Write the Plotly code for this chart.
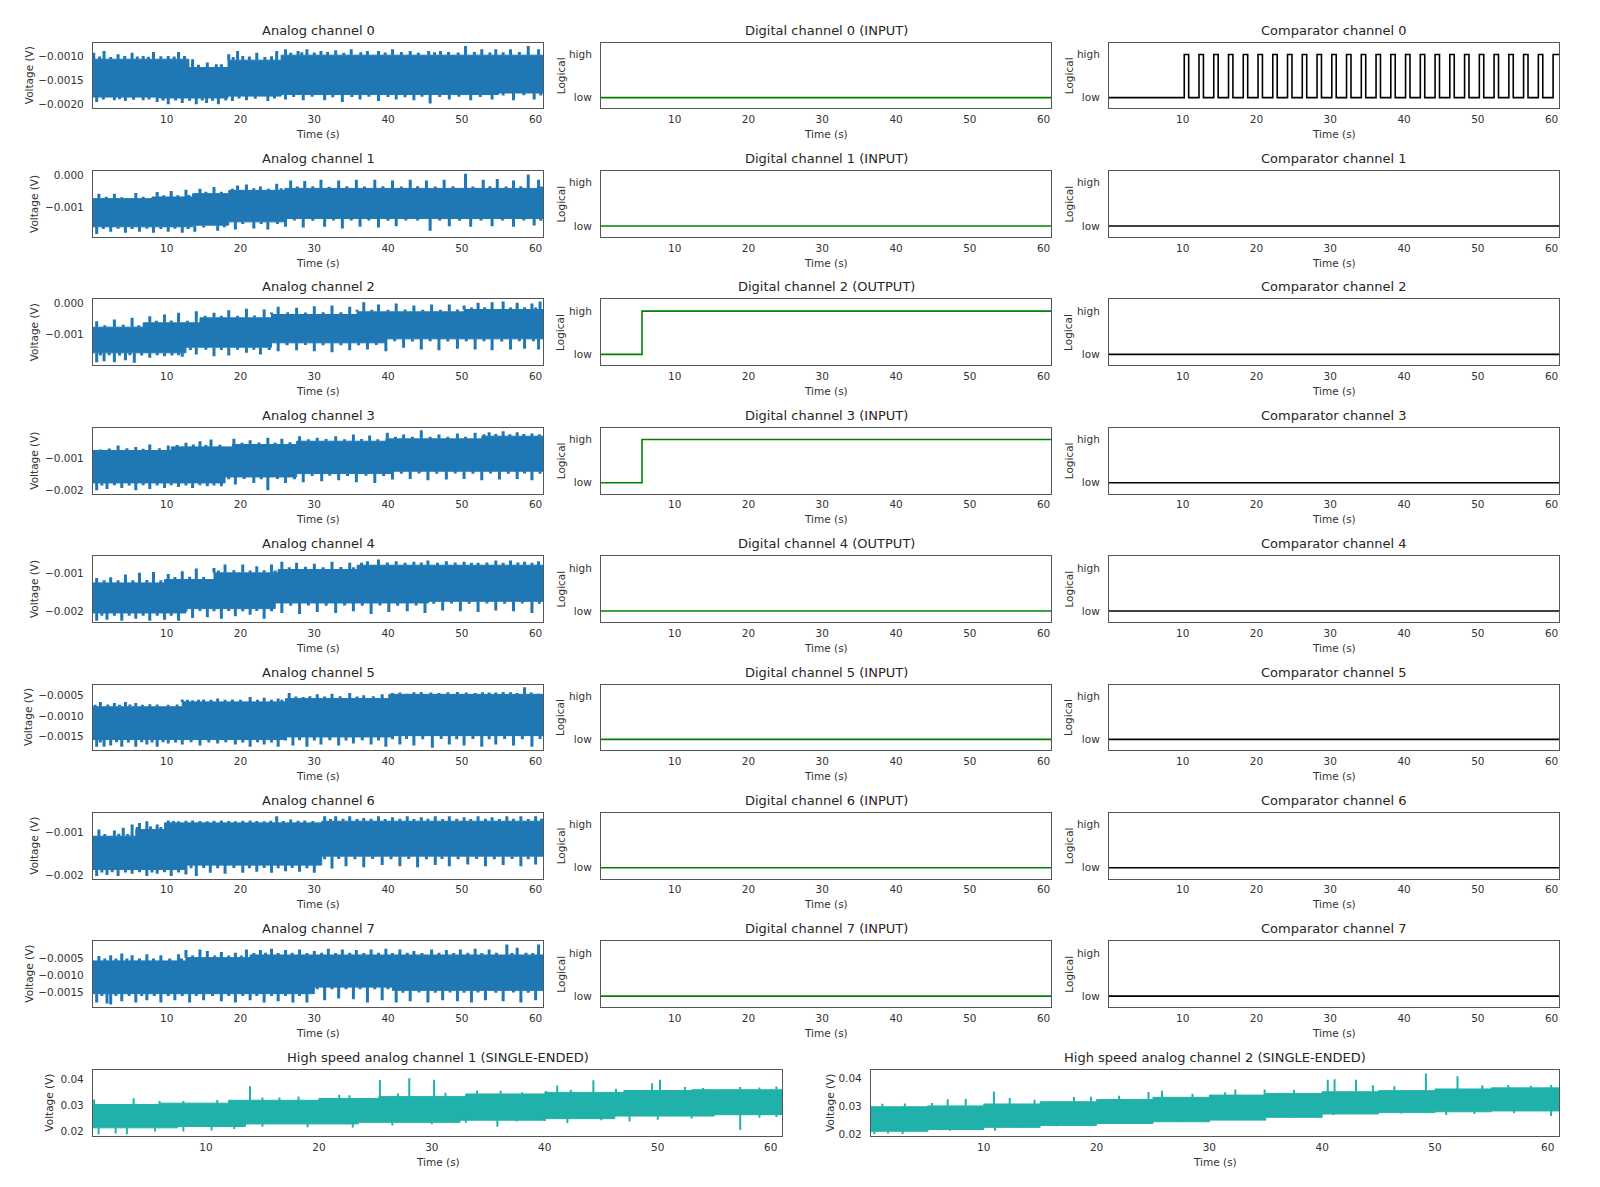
import numpy as np
import plotly.graph_objects as go

# ---------------------------------------------------------------- data ----
X_TICKS = [10, 20, 30, 40, 50, 60]
X_RANGE = [0.0, 61.0]

ANALOG_TITLES = ["Analog channel %d" % i for i in range(8)]
DIGITAL_TITLES = ["Digital channel 0 (INPUT)", "Digital channel 1 (INPUT)",
                  "Digital channel 2 (OUTPUT)", "Digital channel 3 (INPUT)",
                  "Digital channel 4 (OUTPUT)", "Digital channel 5 (INPUT)",
                  "Digital channel 6 (INPUT)", "Digital channel 7 (INPUT)"]
COMPARATOR_TITLES = ["Comparator channel %d" % i for i in range(8)]
HS_TITLES = ["High speed analog channel 1 (SINGLE-ENDED)",
             "High speed analog channel 2 (SINGLE-ENDED)"]

# analog channels, values in microvolts
# core band: (time s, upper edge, lower edge) step breakpoints
# spikes: (time s, value) excursions above / below the band (large and minor ones)
A0_CORE = [(0, -1055, -1850), (9, -1055, -1870), (13, -1230, -1870), (18.3, -1075, -1830),
           (25.5, -970, -1795), (55, -970, -1765)]
A0_UP = [(0.1, -917), (1.5, -883), (3.4, -952), (5.3, -917), (6.8, -986), (8.2, -903), (10.2, -986),
         (11.6, -903), (13.5, -1055), (15.5, -1124), (16.7, -1159), (18.4, -952), (19.6, -883),
         (20.3, -986), (22.2, -917), (24.9, -883), (26.1, -848), (27.8, -883), (29.0, -848),
         (30.9, -883), (32.9, -869), (35.0, -848), (37.2, -883), (38.7, -883), (40.6, -848),
         (43.0, -883), (45.5, -883), (47.1, -883), (50.5, -779), (52.7, -848), (54.6, -848),
         (56.6, -848), (59.0, -779), (60.4, -848)]
A0_UP_MINOR = [(0.9, -1000), (2.4, -1010), (4.3, -990), (6.0, -1000), (7.5, -1005), (9.2, -995),
               (11.0, -1000), (12.4, -990), (14.3, -1170), (17.4, -1160), (19.0, -1010), (21.2, -1000),
               (23.3, -1010), (24.2, -995), (26.8, -920), (28.3, -910), (30.0, -915), (31.8, -905),
               (34.0, -920), (36.3, -910), (39.6, -915), (41.8, -905), (44.1, -920), (46.3, -910),
               (48.2, -905), (49.5, -915), (51.7, -905), (53.8, -915), (55.6, -910), (57.8, -905)]
A0_DN = [(0.5, -1952), (2.9, -1918), (4.4, -1932), (6.8, -1918), (8.7, -1952), (10.2, -2000),
         (12.1, -1973), (14.0, -2000), (15.4, -1973), (17.0, -2000), (18.9, -1932), (20.8, -1918),
         (23.7, -1932), (26.1, -1904), (28.5, -1918), (31.4, -1918), (33.8, -1952), (36.2, -1904),
         (38.7, -1932), (41.1, -1904), (43.5, -1918), (45.7, -1987), (48.3, -1904), (51.2, -1918),
         (54.1, -1904), (57.0, -1918), (59.8, -1904)]
A0_DN_MINOR = [(1.4, -1900), (3.6, -1895), (5.5, -1905), (7.6, -1900), (9.5, -1920), (11.2, -1925),
               (13.1, -1930), (14.8, -1920), (16.2, -1930), (18.0, -1925), (19.8, -1880), (22.0, -1885),
               (24.6, -1880), (27.2, -1850), (29.7, -1845), (32.5, -1855), (35.1, -1850), (37.4, -1845),
               (40.0, -1850), (42.3, -1855), (44.6, -1845), (47.0, -1850), (49.6, -1845), (52.5, -1850),
               (55.6, -1815), (58.4, -1810), (60.7, -1815)]

A1_CORE = [(0, -737, -1632), (8, -684, -1632), (13.5, -579, -1580), (18.4, -474, -1474),
           (26, -411, -1369)]
A1_UP = [(0.8, -579), (2.9, -579), (5.8, -558), (8.7, -527), (10.6, -495), (12.6, -453), (14.5, -421),
         (16.4, -369), (19.6, -316), (20.8, -284), (22.7, -347), (24.9, -263), (26.8, -158),
         (28.7, -179), (30.9, -137), (33.3, -158), (35.7, -137), (38.2, -137), (40.6, -158),
         (43.0, -137), (45.2, -158), (47.6, -137), (50.5, 53), (52.9, -137), (54.8, -116),
         (57.0, -158), (59.0, 32), (60.4, -137)]
A1_UP_MINOR = [(1.8, -680), (3.9, -690), (6.8, -680), (9.6, -630), (11.5, -625), (13.0, -620),
               (15.3, -520), (17.4, -515), (18.9, -420), (21.8, -410), (23.8, -420), (25.5, -405),
               (27.7, -350), (29.8, -345), (32.0, -355), (34.4, -345), (36.8, -350), (39.3, -345),
               (41.8, -350), (44.0, -345), (46.4, -350), (48.8, -345), (51.5, -350), (53.8, -345),
               (56.0, -350), (58.0, -345), (60.8, -350)]
A1_DN = [(0.5, -1864), (2.4, -1790), (4.4, -1822), (6.3, -1790), (8.2, -1822), (10.2, -1790),
         (12.1, -1822), (13.8, -1790), (16.9, -1758), (19.3, -1716), (21.8, -1685), (23.7, -1716),
         (26.1, -1632), (28.5, -1653), (31.4, -1632), (33.8, -1685), (36.2, -1632), (38.7, -1653),
         (41.1, -1611), (45.7, -1758), (48.3, -1611), (51.2, -1632), (54.1, -1611), (57.0, -1632),
         (59.8, -1590)]
A1_DN_MINOR = [(1.4, -1700), (3.4, -1690), (5.3, -1700), (7.3, -1695), (9.2, -1700), (11.1, -1690),
               (12.9, -1700), (15.0, -1650), (17.8, -1645), (20.3, -1540), (22.8, -1545), (25.0, -1540),
               (27.3, -1430), (29.8, -1440), (32.6, -1430), (35.0, -1435), (37.4, -1430), (40.0, -1440),
               (42.4, -1430), (44.0, -1435), (47.0, -1430), (49.7, -1440), (52.6, -1430), (55.5, -1435),
               (58.4, -1430), (60.7, -1440)]

A2_CORE = [(0, -785, -1613), (6.8, -645, -1613), (12.6, -645, -1430), (14.5, -484, -1430),
           (24.2, -376, -1290), (35.8, -290, -1290), (39.7, -290, -1161), (50.3, -215, -1161)]
A2_UP = [(0.5, -591), (2.9, -538), (5.3, -484), (7.7, -430), (9.7, -376), (11.6, -323), (14.0, -269),
         (16.4, -323), (18.4, -237), (20.8, -194), (23.2, -215), (25.1, -129), (27.6, -161),
         (30.0, -108), (32.4, -86), (34.8, -129), (36.7, 22), (38.7, -54), (41.1, -22), (43.5, -86),
         (45.9, -54), (48.3, -54), (50.3, -86), (52.2, 0), (54.1, 22), (55.6, 43), (57.5, 0),
         (59.5, -22), (60.6, 43)]
A2_UP_MINOR = [(1.6, -720), (4.1, -710), (6.2, -720), (8.6, -580), (10.6, -570), (12.8, -575),
               (15.2, -420), (17.4, -415), (19.6, -420), (21.9, -410), (24.2, -310), (26.4, -305),
               (28.8, -310), (31.2, -300), (33.6, -305), (35.8, -225), (37.8, -220), (40.0, -225),
               (42.3, -215), (44.7, -220), (47.1, -225), (49.4, -215), (51.3, -150), (53.1, -145),
               (56.6, -150), (58.5, -145), (60.0, -150)]
A2_DN = [(0.5, -1914), (1.5, -1881), (2.9, -1914), (4.4, -1849), (5.6, -1935), (7.7, -1774),
         (9.7, -1720), (12.1, -1742), (14.0, -1666), (16.4, -1720), (18.4, -1699), (20.8, -1613),
         (22.7, -1666), (25.1, -1559), (27.6, -1527), (30.0, -1559), (32.4, -1591), (34.8, -1527),
         (37.2, -1505), (39.7, -1559), (42.1, -1451), (44.5, -1505), (46.9, -1527), (49.4, -1484),
         (51.8, -1505), (54.1, -1527), (56.6, -1505), (58.5, -1484), (60.4, -1505)]
A2_DN_MINOR = [(1.0, -1700), (2.2, -1690), (3.6, -1700), (5.0, -1690), (6.6, -1700), (8.7, -1690),
               (10.7, -1700), (11.6, -1690), (13.2, -1520), (15.3, -1510), (17.4, -1520), (19.6, -1515),
               (21.8, -1510), (23.9, -1520), (26.3, -1370), (28.8, -1360), (31.2, -1370), (33.6, -1365),
               (36.0, -1370), (38.4, -1360), (40.9, -1240), (43.3, -1245), (45.7, -1240), (48.1, -1245),
               (50.6, -1240), (53.0, -1235), (55.4, -1245), (57.8, -1240), (59.7, -1235)]

A3_CORE = [(0, -773, -1773), (10.6, -660, -1773), (17.9, -660, -1588), (18.9, -588, -1588),
           (27.6, -485, -1485), (39.7, -412, -1485), (40.6, -412, -1412), (52.7, -330, -1412)]
A3_UP = [(1.0, -742), (3.4, -619), (5.8, -660), (7.7, -588), (10.2, -619), (12.6, -536), (14.5, -485),
         (16.0, -433), (19.1, -412), (21.3, -454), (23.7, -381), (25.6, -412), (28.0, -330),
         (30.4, -381), (32.9, -330), (35.3, -278), (37.5, -309), (39.9, -227), (42.1, -278),
         (44.5, -144), (46.9, -278), (49.4, -247), (51.8, -227), (53.7, -206), (55.6, -175),
         (57.5, -206), (59.5, -247)]
A3_UP_MINOR = [(2.2, -710), (4.6, -705), (6.8, -715), (9.0, -705), (11.4, -600), (13.6, -590),
               (15.3, -600), (17.2, -595), (20.2, -530), (22.5, -525), (24.7, -530), (26.7, -520),
               (29.2, -425), (31.6, -420), (34.1, -425), (36.4, -420), (38.6, -425), (41.0, -350),
               (43.3, -345), (45.7, -350), (48.1, -345), (50.5, -350), (53.0, -270), (54.6, -265),
               (56.5, -270), (58.4, -265), (60.5, -270)]
A3_DN = [(0.5, -2000), (1.9, -1959), (3.9, -1928), (5.8, -2000), (7.7, -1959), (9.7, -1928),
         (11.6, -1897), (13.5, -1928), (15.5, -1876), (17.4, -1876), (19.3, -1825), (21.8, -1773),
         (23.7, -2000), (26.1, -1773), (28.5, -1753), (31.0, -1722), (33.3, -1691), (35.7, -1753),
         (38.2, -1773), (40.6, -1670), (43.0, -1650), (45.4, -1691), (47.9, -1670), (50.3, -1650),
         (52.7, -1691), (55.1, -1670), (57.5, -1650), (59.5, -1691)]
A3_DN_MINOR = [(1.2, -1850), (2.9, -1845), (4.9, -1850), (6.8, -1845), (8.7, -1850), (10.6, -1845),
               (12.6, -1850), (14.5, -1845), (16.4, -1850), (18.4, -1660), (20.5, -1655), (22.8, -1660),
               (25.0, -1655), (27.3, -1660), (29.7, -1560), (32.1, -1555), (34.5, -1560), (37.0, -1555),
               (39.4, -1560), (41.8, -1490), (44.2, -1485), (46.6, -1490), (49.1, -1485), (51.5, -1490),
               (53.9, -1485), (56.3, -1490), (58.5, -1485), (60.6, -1490)]

A4_CORE = [(0, -1248, -2044), (9.7, -1159, -2044), (12.6, -1159, -1929), (16.4, -982, -1929),
           (24.7, -982, -1779), (25.1, -894, -1779), (35.8, -779, -1779), (45.5, -779, -1735)]
A4_UP = [(0.5, -1115), (2.4, -1097), (4.4, -1027), (6.3, -982), (8.2, -956), (10.2, -1009),
         (12.1, -938), (14.0, -867), (16.4, -850), (17.9, -761), (20.3, -761), (22.2, -805),
         (24.2, -761), (25.6, -690), (27.6, -717), (30.0, -743), (32.4, -690), (34.8, -717),
         (37.2, -673), (38.7, -628), (41.1, -673), (43.5, -690), (45.4, -655), (47.9, -673),
         (50.3, -690), (52.2, -717), (54.6, -655), (56.6, -655), (58.5, -690), (60.4, -673)]
A4_UP_MINOR = [(1.5, -1180), (3.4, -1175), (5.4, -1180), (7.3, -1170), (9.2, -1180), (11.1, -1090),
               (13.1, -1085), (15.0, -1090), (17.0, -920), (19.1, -915), (21.3, -920), (23.2, -915),
               (24.7, -920), (26.6, -830), (28.8, -820), (31.2, -830), (33.6, -825), (35.3, -830),
               (36.4, -715), (39.9, -710), (42.3, -715), (44.5, -710), (46.7, -715), (49.1, -710),
               (51.3, -715), (53.4, -710), (55.6, -715), (57.6, -710), (59.5, -715)]
A4_DN = [(0.5, -2248), (1.9, -2221), (3.9, -2248), (5.8, -2195), (7.7, -2248), (9.7, -2221),
         (11.6, -2248), (13.5, -2177), (15.5, -2159), (17.4, -2195), (19.3, -2133), (21.3, -2089),
         (23.2, -2195), (25.6, -2044), (28.0, -2071), (30.4, -2018), (32.9, -2044), (35.3, -2000),
         (37.7, -2071), (40.1, -2018), (42.6, -2000), (45.0, -2044), (47.4, -1982), (49.8, -2000),
         (52.2, -2018), (54.6, -1982), (57.0, -2000), (59.5, -2044)]
A4_DN_MINOR = [(1.2, -2120), (2.9, -2115), (4.9, -2120), (6.8, -2115), (8.7, -2120), (10.6, -2115),
               (12.6, -2000), (14.5, -1995), (16.4, -2000), (18.4, -1995), (20.3, -2000), (22.2, -1995),
               (24.2, -2000), (26.8, -1850), (29.2, -1845), (31.6, -1850), (34.1, -1845), (36.5, -1850),
               (38.9, -1845), (41.3, -1850), (43.8, -1845), (46.2, -1800), (48.6, -1795), (51.0, -1800),
               (53.4, -1795), (55.8, -1800), (58.2, -1795), (60.5, -1800)]

A5_CORE = [(0, -780, -1580), (12.1, -660, -1580), (26.1, -580, -1516), (40.1, -476, -1516),
           (40.6, -476, -1484)]
A5_UP = [(1.0, -660), (2.9, -684), (4.4, -660), (5.8, -684), (7.7, -716), (12.1, -604), (13.5, -620),
         (15.0, -604), (16.9, -580), (18.9, -604), (21.3, -540), (23.2, -556), (25.1, -580),
         (26.6, -444), (28.5, -540), (30.4, -476), (32.4, -460), (34.8, -444), (36.7, -500),
         (39.2, -476), (40.6, -444), (42.6, -460), (44.5, -420), (46.9, -444), (49.4, -420),
         (51.8, -444), (53.7, -428), (55.6, -420), (57.5, -444), (58.5, -300), (60.4, -460)]
A5_UP_MINOR = [(0.3, -730), (2.0, -725), (3.6, -730), (5.0, -725), (6.7, -730), (8.7, -725),
               (10.2, -730), (11.4, -725), (12.8, -610), (14.3, -605), (16.0, -610), (17.9, -605),
               (20.0, -610), (22.3, -605), (24.2, -610), (25.6, -605), (27.5, -530), (29.4, -525),
               (31.4, -530), (33.5, -525), (35.8, -530), (38.0, -525), (41.6, -430), (43.5, -425),
               (45.8, -430), (48.1, -425), (50.6, -430), (52.8, -425), (54.6, -430), (56.6, -425),
               (59.4, -430)]
A5_DN = [(0.5, -1756), (1.5, -1756), (2.4, -1724), (3.9, -1756), (5.8, -1756), (7.3, -1700),
         (8.7, -1756), (10.2, -1676), (12.1, -1700), (14.5, -1724), (16.9, -1676), (19.3, -1700),
         (21.3, -1756), (23.2, -1700), (25.1, -1756), (27.1, -1724), (29.0, -1756), (30.9, -1700),
         (33.3, -1724), (35.3, -1676), (37.7, -1700), (39.7, -1756), (41.6, -1700), (43.5, -1724),
         (46.0, -1780), (48.3, -1700), (50.3, -1724), (52.7, -1756), (54.6, -1700), (57.0, -1724),
         (59.5, -1756)]
A5_DN_MINOR = [(1.0, -1650), (3.2, -1645), (4.8, -1650), (6.6, -1645), (8.0, -1650), (9.5, -1645),
               (11.2, -1650), (13.3, -1645), (15.7, -1650), (18.0, -1645), (20.3, -1650), (22.3, -1645),
               (24.2, -1650), (26.1, -1600), (28.0, -1595), (30.0, -1600), (32.1, -1595), (34.3, -1600),
               (36.5, -1595), (38.7, -1600), (40.6, -1570), (42.5, -1565), (44.7, -1570), (47.2, -1565),
               (49.3, -1570), (51.5, -1565), (53.7, -1570), (55.8, -1565), (58.2, -1570), (60.6, -1565)]

A6_CORE = [(0, -1093, -1868), (5.8, -938, -1868), (9.7, -783, -1868), (12.6, -783, -1767),
           (31, -744, -1558)]
A6_UP = [(0.8, -938), (2.9, -961), (4.1, -899), (5.3, -822), (6.3, -783), (7.3, -744), (8.7, -822),
         (10.2, -729), (11.6, -744), (13.5, -729), (15.5, -744), (17.4, -729), (19.3, -744),
         (21.3, -729), (23.2, -744), (24.9, -628), (26.8, -706), (28.7, -729), (31.4, -628),
         (32.9, -628), (34.8, -628), (36.7, -667), (38.7, -628), (40.6, -651), (42.6, -628),
         (44.5, -651), (46.4, -628), (48.3, -628), (50.3, -651), (52.2, -628), (54.1, -651),
         (56.1, -628), (58.0, -628), (60.0, -628)]
A6_UP_MINOR = [(1.6, -1040), (3.5, -1035), (4.7, -1040), (6.0, -880), (7.8, -870), (9.2, -880),
               (10.9, -740), (12.6, -735), (14.5, -740), (16.4, -735), (18.4, -740), (20.3, -735),
               (22.2, -740), (24.1, -735), (25.8, -740), (27.8, -735), (29.8, -740), (32.2, -690),
               (33.9, -685), (35.8, -690), (37.7, -685), (39.6, -690), (41.6, -685), (43.5, -690),
               (45.4, -685), (47.4, -690), (49.3, -685), (51.2, -690), (53.2, -685), (55.1, -690),
               (57.0, -685), (59.0, -690), (60.8, -685)]
A6_DN = [(0.5, -2023), (1.9, -2000), (3.4, -2023), (5.3, -1969), (7.3, -2023), (8.7, -1969),
         (10.6, -2023), (12.6, -1984), (14.0, -2023), (15.9, -1946), (17.9, -1969), (20.3, -1946),
         (22.2, -1922), (24.2, -1946), (26.1, -1907), (28.0, -1922), (30.0, -1946), (32.4, -1845),
         (34.3, -1791), (36.7, -1814), (39.2, -1767), (41.6, -1791), (44.0, -1814), (46.4, -1767),
         (48.3, -1791), (50.8, -1752), (53.2, -1791), (55.6, -1767), (58.0, -1791), (60.0, -1752)]
A6_DN_MINOR = [(1.2, -1940), (2.6, -1935), (4.4, -1940), (6.3, -1935), (8.0, -1940), (9.7, -1935),
               (11.6, -1940), (13.3, -1840), (15.0, -1835), (16.9, -1840), (19.1, -1835), (21.2, -1840),
               (23.2, -1835), (25.1, -1840), (27.0, -1835), (29.0, -1840), (31.4, -1630), (33.3, -1625),
               (35.5, -1630), (37.9, -1625), (40.4, -1630), (42.8, -1625), (45.2, -1630), (47.3, -1625),
               (49.5, -1630), (52.0, -1625), (54.4, -1630), (56.8, -1625), (59.0, -1630)]

A7_CORE = [(0, -578, -1548), (12.6, -481, -1548), (21.3, -403, -1548), (30, -403, -1354),
           (40.6, -403, -1450)]
A7_UP = [(0.8, -432), (2.4, -413), (3.9, -355), (5.3, -413), (7.3, -384), (9.2, -413), (11.6, -384),
         (12.6, -258), (14.5, -238), (15.5, -287), (17.4, -316), (19.3, -335), (20.8, -238),
         (22.7, -258), (24.2, -219), (26.1, -258), (28.0, -238), (30.0, -287), (31.9, -219),
         (33.8, -238), (35.7, -258), (37.7, -238), (39.7, -219), (41.6, -238), (43.5, -287),
         (45.9, -238), (47.9, -258), (49.8, -238), (51.8, -219), (53.7, -238), (56.1, -93),
         (57.5, -190), (60.4, -93)]
A7_UP_MINOR = [(1.6, -510), (3.1, -505), (4.6, -510), (6.3, -505), (8.2, -510), (10.4, -505),
               (12.0, -510), (13.5, -420), (16.5, -415), (18.4, -420), (20.1, -415), (21.8, -340),
               (23.4, -335), (25.1, -340), (27.0, -335), (29.0, -340), (31.0, -335), (32.9, -340),
               (34.8, -335), (36.7, -340), (38.7, -335), (40.6, -340), (42.6, -335), (44.6, -340),
               (46.9, -335), (48.9, -340), (50.8, -335), (52.7, -340), (54.7, -335), (56.8, -340),
               (58.7, -335), (59.6, -340)]
A7_DN = [(0.5, -1810), (1.9, -1839), (2.4, -1868), (3.9, -1771), (5.8, -1810), (7.3, -1742),
         (9.2, -1810), (11.1, -1742), (13.1, -1810), (15.0, -1742), (17.4, -1771), (19.3, -1810),
         (21.3, -1742), (23.2, -1810), (25.1, -1771), (27.1, -1810), (29.0, -1810), (31.4, -1742),
         (33.3, -1693), (35.3, -1713), (37.2, -1810), (39.2, -1742), (41.1, -1810), (43.0, -1771),
         (45.4, -1810), (47.4, -1742), (49.4, -1771), (51.3, -1810), (53.2, -1742), (55.6, -1771),
         (58.0, -1810), (60.0, -1742)]
A7_DN_MINOR = [(1.2, -1620), (3.1, -1615), (4.9, -1620), (6.6, -1615), (8.3, -1620), (10.2, -1615),
               (12.1, -1620), (14.0, -1615), (16.2, -1620), (18.4, -1615), (20.3, -1620), (22.2, -1615),
               (24.2, -1620), (26.1, -1615), (28.0, -1620), (30.4, -1420), (32.4, -1415), (34.3, -1420),
               (36.2, -1415), (38.2, -1420), (40.0, -1415), (42.0, -1520), (44.2, -1515), (46.4, -1520),
               (48.4, -1515), (50.3, -1520), (52.2, -1515), (54.6, -1520), (57.0, -1515), (59.0, -1520)]

# high speed channels, values in millivolts
HS1_CORE = [(0, 30.3, 21.4), (6, 30.8, 21.4), (7.5, 30.8, 21.9), (12, 31.9, 21.9), (13.5, 31.9, 22.9),
            (20, 32.6, 22.9), (23.5, 32.6, 23.5), (25.3, 33.3, 23.5), (32.5, 33.3, 24.3),
            (33, 34.3, 24.3), (40, 34.9, 24.9), (46.2, 34.9, 25.9), (47, 35.6, 25.9),
            (53, 35.9, 25.9), (55, 35.9, 26.4)]
HS1_UP = [(0.1, 32.2), (3.6, 32.7), (5.9, 31.6), (8.0, 31.6), (11.0, 32.0), (13.9, 37.2), (15.0, 33.0),
          (16.5, 33.0), (18.2, 33.3), (21.8, 34.0), (22.7, 33.8), (25.4, 39.6), (27.0, 34.5),
          (28.0, 40.3), (30.2, 39.7), (31.2, 34.8), (34.0, 35.6), (36.1, 35.5), (38.0, 35.0),
          (40.1, 35.4), (41.1, 37.5), (42.3, 35.9), (44.3, 39.5), (46.3, 36.3), (49.5, 38.4),
          (50.2, 39.7), (52.4, 37.0), (54.0, 36.6), (57.3, 37.0), (59.0, 36.8), (60.5, 37.1)]
HS1_DN = [(0.5, 19.0), (2.0, 19.2), (3.0, 19.0), (5.5, 20.0), (8.0, 20.0), (10.5, 20.4), (12.5, 21.0),
          (15.0, 21.8), (19.0, 21.6), (23.0, 21.5), (26.5, 22.3), (30.0, 22.8), (33.0, 23.3),
          (35.8, 21.8), (37.5, 23.8), (40.0, 24.0), (42.0, 23.2), (45.0, 24.3), (47.5, 23.8),
          (50.0, 24.5), (53.0, 25.0), (57.3, 20.6), (59.0, 25.2), (60.5, 25.5)]

HS2_CORE = [(0, 29.8, 21.0), (5, 30.1, 21.6), (10, 30.8, 22.4), (15, 31.6, 23.1), (20, 32.4, 23.8),
            (25, 33.2, 24.4), (30, 34.0, 25.0), (35, 34.6, 26.0), (40, 35.2, 27.2), (45, 35.6, 27.7),
            (50, 36.2, 28.0), (55, 36.6, 28.3)]
HS2_UP = [(1, 30.9), (3, 31.0), (5.4, 31.2), (6.8, 32.5), (8.4, 32.6), (10.9, 35.3), (12.3, 33.0),
          (14.5, 32.3), (18.0, 33.3), (19.5, 33.4), (22.0, 33.8), (24.6, 35.1), (25.8, 35.6),
          (28.5, 34.5), (31.4, 35.0), (32.3, 36.0), (34.9, 36.0), (37.5, 35.8), (40.5, 39.5),
          (41.1, 39.7), (43.0, 39.5), (44.5, 37.5), (46.4, 37.2), (49.2, 41.8), (52.0, 40.8),
          (54.2, 37.5), (56.5, 37.6), (58.5, 37.4), (60.3, 37.6)]
HS2_DN = [(0.3, 20.0), (1.5, 20.2), (2.8, 20.0), (5.0, 21.0), (7.0, 21.2), (9.0, 21.5), (11.0, 21.2),
          (13.0, 22.3), (16.5, 22.8), (19.5, 23.2), (22.0, 23.8), (24.5, 23.6), (27.5, 24.6),
          (29.5, 24.9), (31.3, 25.3), (35.0, 26.3), (37.5, 26.4), (41.0, 26.8), (43.5, 27.2),
          (47.0, 27.4), (51.0, 26.8), (53.5, 27.2), (57.0, 27.5), (60.3, 26.5)]

# digital channels: times (s) at which the logical state toggles (starting low)
DIGITAL_TOGGLES = [[], [], [5.56], [5.56], [], [], [], []]
# comparator channel 0: rising / falling edges (s)
COMP0_RISE = [10.2, 12.2, 14.2, 16.2, 18.2, 20.2, 22.2, 24.2, 26.2, 28.2, 30.2, 32.2, 34.2,
              36.2, 38.2, 40.2, 42.2, 44.2, 46.2, 48.2, 50.2, 52.2, 54.2, 56.2, 58.2, 60.2]
COMP0_FALL = [10.8, 12.8, 14.8, 16.8, 18.8, 20.8, 22.8, 24.8, 26.8, 28.8, 30.8, 32.8, 34.8,
              36.8, 38.8, 40.8, 42.8, 44.8, 46.8, 48.8, 50.8, 52.8, 54.8, 56.8, 58.8]
COMPARATOR_TOGGLES = [sorted(COMP0_RISE + COMP0_FALL), [], [], [], [], [], [], []]

# y-axis tick labels
ANALOG_YTICKS = [
    ([-0.0010, -0.0015, -0.0020], ["\u22120.0010", "\u22120.0015", "\u22120.0020"]),
    ([0.0, -0.001], ["0.000", "\u22120.001"]),
    ([0.0, -0.001], ["0.000", "\u22120.001"]),
    ([-0.001, -0.002], ["\u22120.001", "\u22120.002"]),
    ([-0.001, -0.002], ["\u22120.001", "\u22120.002"]),
    ([-0.0005, -0.0010, -0.0015], ["\u22120.0005", "\u22120.0010", "\u22120.0015"]),
    ([-0.001, -0.002], ["\u22120.001", "\u22120.002"]),
    ([-0.0005, -0.0010, -0.0015], ["\u22120.0005", "\u22120.0010", "\u22120.0015"]),
]
ANALOG_YRANGE = [(-2.09e-3, -0.71e-3), (-1.95e-3, 0.137e-3), (-2.01e-3, 0.108e-3),
                 (-2.10e-3, -0.072e-3), (-2.28e-3, -0.54e-3), (-1.84e-3, -0.236e-3),
                 (-2.08e-3, -0.55e-3), (-1.94e-3, 0.005e-3)]
HS_YTICKS = ([0.02, 0.03, 0.04], ["0.02", "0.03", "0.04"])
HS_YRANGE = [(0.0182, 0.0434), (0.0192, 0.0430)]
LOGIC_YTICKS = ([0, 1], ["low", "high"])
LOGIC_YRANGE = (-0.25, 1.27)

ANALOG = [(A0_CORE, A0_UP + A0_UP_MINOR, A0_DN + A0_DN_MINOR),
          (A1_CORE, A1_UP + A1_UP_MINOR, A1_DN + A1_DN_MINOR),
          (A2_CORE, A2_UP + A2_UP_MINOR, A2_DN + A2_DN_MINOR),
          (A3_CORE, A3_UP + A3_UP_MINOR, A3_DN + A3_DN_MINOR),
          (A4_CORE, A4_UP + A4_UP_MINOR, A4_DN + A4_DN_MINOR),
          (A5_CORE, A5_UP + A5_UP_MINOR, A5_DN + A5_DN_MINOR),
          (A6_CORE, A6_UP + A6_UP_MINOR, A6_DN + A6_DN_MINOR),
          (A7_CORE, A7_UP + A7_UP_MINOR, A7_DN + A7_DN_MINOR)]
HS = [(HS1_CORE, HS1_UP, HS1_DN), (HS2_CORE, HS2_UP, HS2_DN)]

# ---------------------------------------------------------------- style ----
W, H = 1600, 1187
FONT = "DejaVu Sans"
TEXT = "#333333"
FRAME = "#555555"
BLUE = "#1f77b4"
TEAL = "#20b2aa"
GREEN = "#008000"
BLACK = "#000000"
COLS = [(93, 543), (601, 1051), (1109, 1559)]
HS_COLS = [(93, 782), (871, 1559)]
ROW_TOP0, ROW_STEP, ROW_H = 40.0, 129.0, 66.0
HS_TOP, HS_BOT = 1072.5, 1139.0
ANALOG_YLABEL_X = [28.6, 34, 34, 34, 34, 28.6, 34, 28.6]

fig = go.Figure()
axes = {}
annotations = []
count = [0]


def add_panel(x0, x1, y0, y1, yrange, yticks, title, ytitle, ytitle_x):
    count[0] += 1
    n = count[0]
    sfx = "" if n == 1 else str(n)
    common = dict(showline=True, mirror=True, linecolor=FRAME, linewidth=1.2,
                  showgrid=False, zeroline=False, ticks="",
                  tickfont=dict(family=FONT, size=10.5, color=TEXT), fixedrange=True)
    axes["xaxis" + sfx] = dict(common, domain=[x0 / W, x1 / W], anchor="y" + sfx,
                               range=X_RANGE, tickmode="array", tickvals=X_TICKS,
                               ticktext=[str(v) for v in X_TICKS], ticklabelstandoff=1)
    axes["yaxis" + sfx] = dict(common, domain=[1 - y1 / H, 1 - y0 / H], anchor="x" + sfx,
                               range=list(yrange), tickmode="array", tickvals=yticks[0],
                               ticktext=yticks[1], ticklabelstandoff=6)
    xc = (x0 + x1) / 2 / W
    annotations.append(dict(text=title, x=xc, y=1 - y0 / H, xref="paper", yref="paper",
                            xanchor="center", yanchor="bottom", yshift=3, showarrow=False,
                            font=dict(family=FONT, size=13, color="#262626")))
    annotations.append(dict(text="Time (s)", x=xc, y=1 - (y1 + 26) / H, xref="paper",
                            yref="paper", xanchor="center", yanchor="middle", showarrow=False,
                            font=dict(family=FONT, size=10.5, color=TEXT)))
    annotations.append(dict(text=ytitle, x=ytitle_x / W, y=1 - (y0 + y1) / 2 / H, xref="paper",
                            yref="paper", xanchor="center", yanchor="middle", textangle=-90,
                            showarrow=False, font=dict(family=FONT, size=10.5, color=TEXT)))
    return "x" + sfx, "y" + sfx


def add_band(core, up, dn, scale, color, xr, yr, spike_w):
    ct = [c[0] for c in core] + [X_RANGE[1]]
    hi = [c[1] * scale for c in core]
    lo = [c[2] * scale for c in core]
    hi.append(hi[-1])
    lo.append(lo[-1])
    fig.add_trace(go.Scatter(x=ct, y=lo, mode="lines", line=dict(width=1, shape="hv", color=color),
                             xaxis=xr, yaxis=yr, hoverinfo="skip", showlegend=False))
    fig.add_trace(go.Scatter(x=ct, y=hi, mode="lines", line=dict(width=1, shape="hv", color=color),
                             fill="tonexty", fillcolor=color, xaxis=xr, yaxis=yr,
                             hoverinfo="skip", showlegend=False))
    times = np.array([c[0] for c in core])
    sx, sy = [], []
    for pts, k in ((up, 1), (dn, 2)):
        for t, v in pts:
            i = int(np.searchsorted(times, t, side="right")) - 1
            sx += [t, t, None]
            sy += [core[i][k] * scale, v * scale, None]
    fig.add_trace(go.Scatter(x=sx, y=sy, mode="lines", line=dict(width=spike_w, color=color),
                             xaxis=xr, yaxis=yr, hoverinfo="skip", showlegend=False))


def add_logic(toggles, color, xr, yr):
    xs = [X_RANGE[0]] + list(toggles) + [X_RANGE[1]]
    ys = [0]
    for _ in toggles:
        ys.append(1 - ys[-1])
    ys.append(ys[-1])
    fig.add_trace(go.Scatter(x=xs, y=ys, mode="lines", line=dict(width=1.6, shape="hv", color=color),
                             xaxis=xr, yaxis=yr, hoverinfo="skip", showlegend=False))


for r in range(8):
    y0 = ROW_TOP0 + ROW_STEP * r
    y1 = y0 + ROW_H
    xr, yr = add_panel(COLS[0][0], COLS[0][1], y0, y1, ANALOG_YRANGE[r], ANALOG_YTICKS[r],
                       ANALOG_TITLES[r], "Voltage (V)", ANALOG_YLABEL_X[r])
    core, up, dn = ANALOG[r]
    add_band(core, up, dn, 1e-6, BLUE, xr, yr, 3)

    xr, yr = add_panel(COLS[1][0], COLS[1][1], y0, y1, LOGIC_YRANGE, LOGIC_YTICKS,
                       DIGITAL_TITLES[r], "Logical", 560.6)
    add_logic(DIGITAL_TOGGLES[r], GREEN, xr, yr)

    xr, yr = add_panel(COLS[2][0], COLS[2][1], y0, y1, LOGIC_YRANGE, LOGIC_YTICKS,
                       COMPARATOR_TITLES[r], "Logical", 1068.6)
    add_logic(COMPARATOR_TOGGLES[r], BLACK, xr, yr)

for j in range(2):
    xr, yr = add_panel(HS_COLS[j][0], HS_COLS[j][1], HS_TOP, HS_BOT, HS_YRANGE[j], HS_YTICKS,
                       HS_TITLES[j], "Voltage (V)", [49.5, 830.6][j])
    core, up, dn = HS[j]
    add_band(core, up, dn, 1e-3, TEAL, xr, yr, 2)

fig.update_layout(width=W, height=H, autosize=False, margin=dict(l=0, r=0, t=0, b=0),
                  paper_bgcolor="white", plot_bgcolor="white", showlegend=False,
                  font=dict(family=FONT, color=TEXT), annotations=annotations, **axes)

fig.write_html("out.html", config={"displayModeBar": False},
               post_script="document.body.style.margin='0';")
